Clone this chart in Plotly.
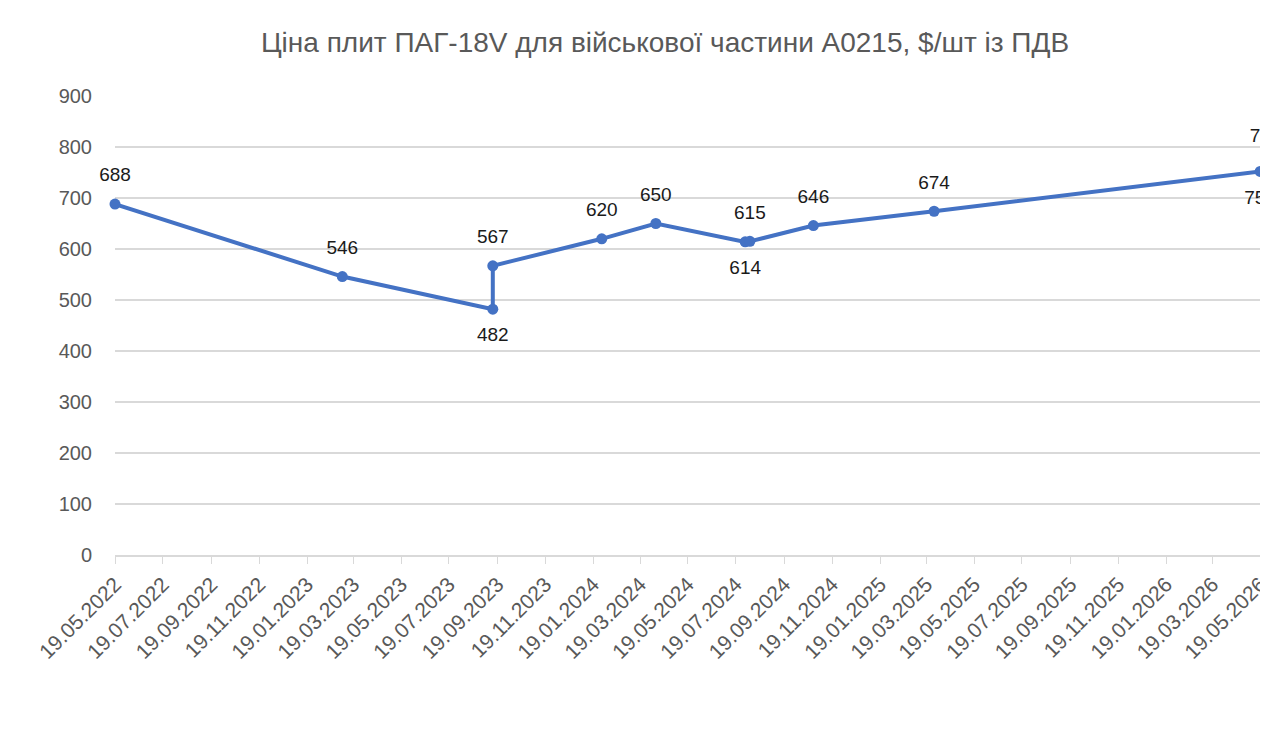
import plotly.graph_objects as go
import pandas as pd

dates = ["2022-05-19", "2023-03-05", "2023-09-13", "2023-09-13", "2024-01-30",
         "2024-04-08", "2024-07-31", "2024-08-06", "2024-10-26", "2025-03-29",
         "2026-05-19", "2026-05-26"]
prices = [688, 546, 482, 567, 620, 650, 614, 615, 646, 674, 752, 765]
label_pos = ["top center", "top center", "bottom center", "top center", "top center",
             "top center", "bottom center", "top center", "top center", "top center",
             "bottom center", "top center"]

tick_dates = pd.date_range("2022-05-01", "2026-05-01", freq="2MS") + pd.Timedelta(days=18)
tick_text = [d.strftime("%d.%m.%Y") for d in tick_dates]
y_ticks = list(range(0, 901, 100))

title = "Ціна плит ПАГ-18V для військової частини А0215, $/шт із ПДВ"

fig = go.Figure()
fig.add_trace(go.Scatter(
    x=dates, y=prices, mode="lines+markers",
    line=dict(color="#4472C4", width=4),
    marker=dict(color="#4472C4", size=11),
    cliponaxis=False, showlegend=False, hoverinfo="x+y",
))
# data labels (transparent spacer markers push labels away from points)
fig.add_trace(go.Scatter(
    x=dates, y=prices, mode="markers+text",
    text=[str(p) for p in prices], textposition=label_pos,
    textfont=dict(family="Liberation Sans", size=19, color="#1a1a1a"),
    marker=dict(size=27, opacity=0),
    cliponaxis=False, showlegend=False, hoverinfo="skip",
))

fig.update_layout(
    width=1260, height=724,
    paper_bgcolor="white", plot_bgcolor="white",
    margin=dict(l=107, r=0, t=88, b=177, autoexpand=False),
    title=dict(text=title, x=(665 - 8) / 1260, xanchor="center",
               y=1 - (42 - 8) / 724, yanchor="middle",
               font=dict(family="Liberation Sans", size=28, color="#595959")),
    font=dict(family="Liberation Sans", color="#595959"),
)
fig.update_xaxes(
    type="date", range=["2022-05-19", "2026-05-29"],
    tickvals=list(tick_dates), ticktext=tick_text, tickangle=-45,
    tickfont=dict(size=21, color="#595959"), ticklabeloverflow="allow",
    showgrid=False, showline=True, linecolor="#d9d9d9", linewidth=1.5,
    ticks="outside", ticklen=7, tickcolor="#d9d9d9", zeroline=False,
    automargin=False,
)
fig.update_yaxes(
    range=[0, 900], tickvals=y_ticks,
    tickfont=dict(size=20, color="#595959"),
    showgrid=True, gridcolor="#d9d9d9", gridwidth=1.5,
    zeroline=False, ticks="", ticklabelstandoff=22, automargin=False,
)

fig.write_html("out.html")
